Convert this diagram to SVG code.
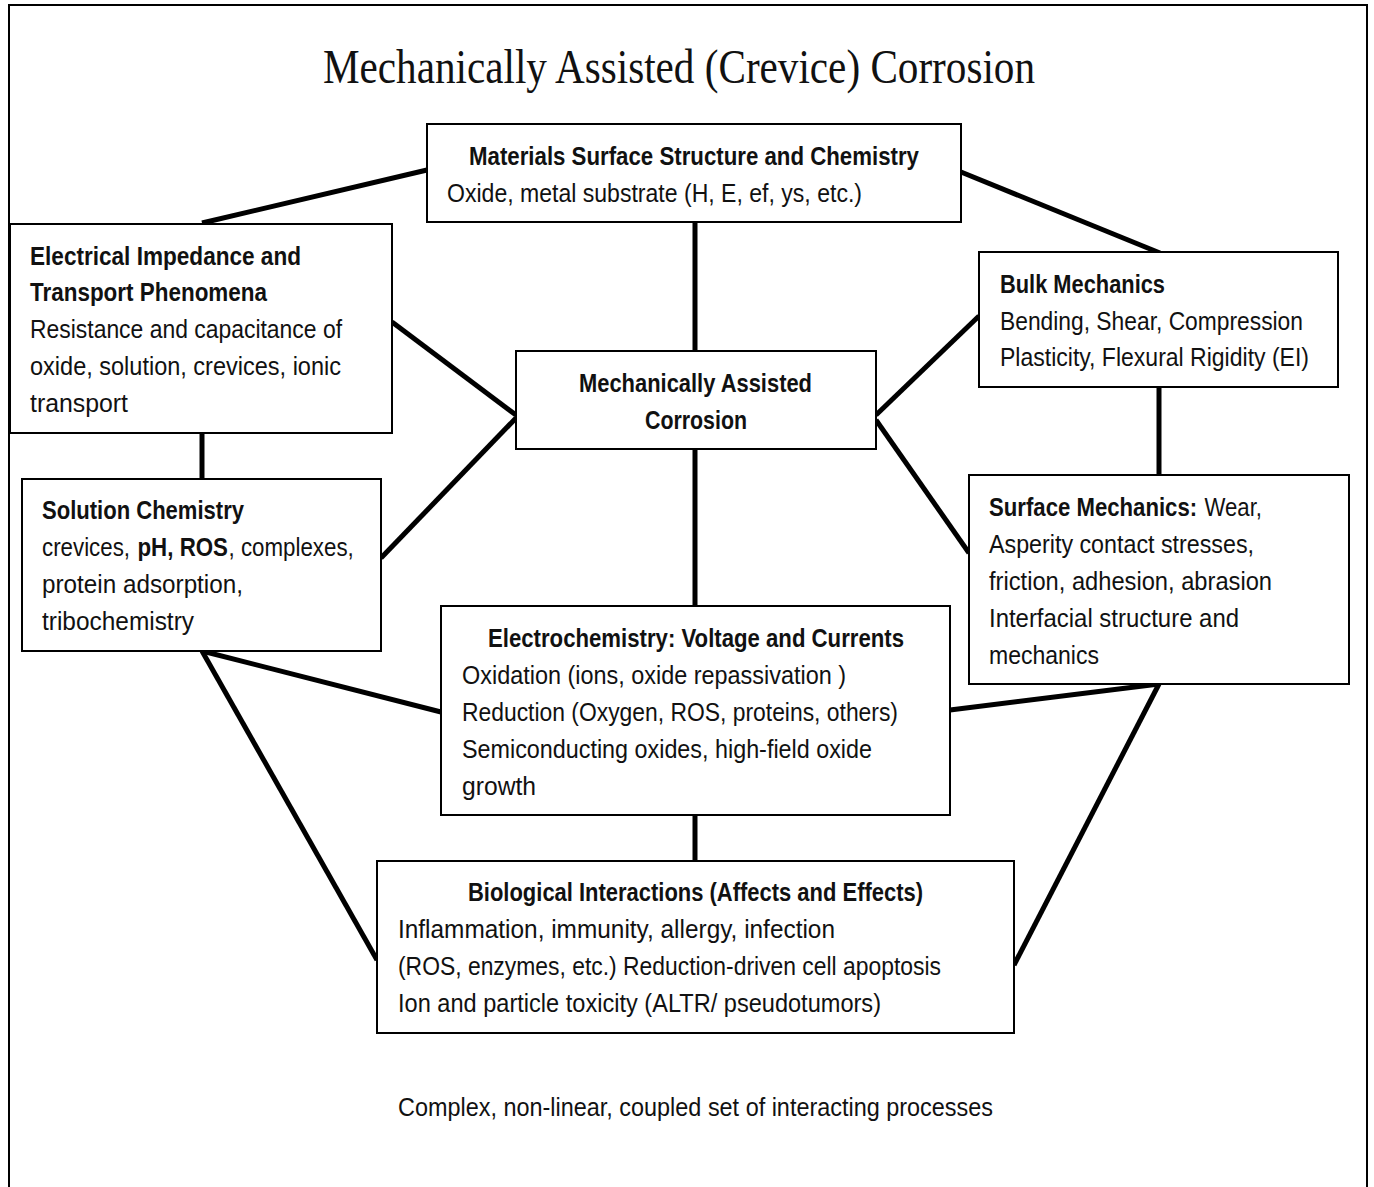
<svg xmlns="http://www.w3.org/2000/svg" width="1374" height="1187" viewBox="0 0 1374 1187">
<style>
.frame{fill:none;stroke:#000;stroke-width:2}
.box{fill:#fff;stroke:#000;stroke-width:2}
.conn line{stroke:#000;stroke-width:5;stroke-linecap:butt}
text{font-family:"Liberation Sans",Arial,sans-serif;font-size:25px;fill:#111}
.b{font-weight:bold}
.title{font-family:"Liberation Serif","Times New Roman",serif;font-size:48px}
</style>
<rect width="1374" height="1187" fill="#fff"/>
<path class="frame" d="M9,1187 V5 H1367 V1187"/>
<text class="title" x="323" y="83" textLength="712" lengthAdjust="spacingAndGlyphs">Mechanically Assisted (Crevice) Corrosion</text>
<g class="conn" id="connectors">
<line x1="427" y1="170" x2="202" y2="223"/>
<line x1="961" y1="172" x2="1160" y2="253"/>
<line x1="695" y1="222" x2="695" y2="352"/>
<line x1="392" y1="322" x2="516" y2="415"/>
<line x1="381" y1="558" x2="516" y2="418"/>
<line x1="876" y1="415" x2="979" y2="316"/>
<line x1="876" y1="420" x2="969" y2="553"/>
<line x1="695" y1="449" x2="695" y2="606"/>
<line x1="202" y1="425" x2="202" y2="479"/>
<line x1="1159" y1="379" x2="1159" y2="475"/>
<line x1="202" y1="651" x2="441" y2="712"/>
<line x1="202" y1="651" x2="377" y2="960"/>
<line x1="1159" y1="684" x2="950" y2="710"/>
<line x1="1159" y1="684" x2="1014" y2="965"/>
<line x1="695" y1="801" x2="695" y2="861"/>
</g>
<g id="materials">
<rect class="box" x="427" y="124" width="534" height="98"/>
<text class="b" x="469" y="165" textLength="450" lengthAdjust="spacingAndGlyphs">Materials Surface Structure and Chemistry</text>
<text x="447" y="202" textLength="415" lengthAdjust="spacingAndGlyphs">Oxide, metal substrate (H, E, ef, ys, etc.)</text>
</g>
<g id="electrical">
<rect class="box" x="10" y="224" width="382" height="209"/>
<text class="b" x="30" y="265" textLength="271" lengthAdjust="spacingAndGlyphs">Electrical Impedance  and</text>
<text class="b" x="30" y="301" textLength="237" lengthAdjust="spacingAndGlyphs">Transport Phenomena</text>
<text x="30" y="338" textLength="312" lengthAdjust="spacingAndGlyphs">Resistance and capacitance of</text>
<text x="30" y="375" textLength="311" lengthAdjust="spacingAndGlyphs">oxide, solution, crevices, ionic</text>
<text x="30" y="412" textLength="98" lengthAdjust="spacingAndGlyphs">transport</text>
</g>
<g id="mac">
<rect class="box" x="516" y="351" width="360" height="98"/>
<text class="b" x="579" y="392" textLength="233" lengthAdjust="spacingAndGlyphs">Mechanically Assisted</text>
<text class="b" x="645" y="429" textLength="102" lengthAdjust="spacingAndGlyphs">Corrosion</text>
</g>
<g id="bulk">
<rect class="box" x="979" y="252" width="359" height="135"/>
<text class="b" x="1000" y="293" textLength="165" lengthAdjust="spacingAndGlyphs">Bulk Mechanics</text>
<text x="1000" y="330" textLength="303" lengthAdjust="spacingAndGlyphs">Bending, Shear, Compression</text>
<text x="1000" y="366" textLength="309" lengthAdjust="spacingAndGlyphs">Plasticity, Flexural Rigidity (EI)</text>
</g>
<g id="solution">
<rect class="box" x="22" y="479" width="359" height="172"/>
<text class="b" x="42" y="519" textLength="202" lengthAdjust="spacingAndGlyphs">Solution Chemistry</text>
<g transform="translate(42,556) scale(0.8926,1)">
<text x="0" y="0">crevices,</text>
<text class="b" x="107" y="0">pH, ROS</text>
<text x="209" y="0">, complexes,</text>
</g>
<text x="42" y="593" textLength="201" lengthAdjust="spacingAndGlyphs">protein adsorption,</text>
<text x="42" y="630" textLength="152" lengthAdjust="spacingAndGlyphs">tribochemistry</text>
</g>
<g id="surface">
<rect class="box" x="969" y="475" width="380" height="209"/>
<g transform="translate(989,516) scale(0.887,1)">
<text class="b" x="0" y="0">Surface Mechanics:</text>
<text x="243" y="0">Wear,</text>
</g>
<text x="989" y="553" textLength="265" lengthAdjust="spacingAndGlyphs">Asperity contact stresses,</text>
<text x="989" y="590" textLength="283" lengthAdjust="spacingAndGlyphs">friction, adhesion, abrasion</text>
<text x="989" y="627" textLength="250" lengthAdjust="spacingAndGlyphs">Interfacial structure and</text>
<text x="989" y="664" textLength="110" lengthAdjust="spacingAndGlyphs">mechanics</text>
</g>
<g id="electrochemistry">
<rect class="box" x="441" y="606" width="509" height="209"/>
<text class="b" x="488" y="647" textLength="416" lengthAdjust="spacingAndGlyphs">Electrochemistry: Voltage and Currents</text>
<text x="462" y="684" textLength="384" lengthAdjust="spacingAndGlyphs">Oxidation (ions, oxide repassivation )</text>
<text x="462" y="721" textLength="436" lengthAdjust="spacingAndGlyphs">Reduction (Oxygen, ROS, proteins, others)</text>
<text x="462" y="758" textLength="410" lengthAdjust="spacingAndGlyphs">Semiconducting oxides, high-field oxide</text>
<text x="462" y="795" textLength="74" lengthAdjust="spacingAndGlyphs">growth</text>
</g>
<g id="biological">
<rect class="box" x="377" y="861" width="637" height="172"/>
<text class="b" x="468" y="901" textLength="455" lengthAdjust="spacingAndGlyphs">Biological Interactions (Affects and Effects)</text>
<text x="398" y="938" textLength="437" lengthAdjust="spacingAndGlyphs">Inflammation, immunity, allergy, infection</text>
<text x="398" y="975" textLength="543" lengthAdjust="spacingAndGlyphs">(ROS, enzymes, etc.) Reduction-driven cell apoptosis</text>
<text x="398" y="1012" textLength="483" lengthAdjust="spacingAndGlyphs">Ion and particle toxicity (ALTR/ pseudotumors)</text>
</g>
<text x="398" y="1116" textLength="595" lengthAdjust="spacingAndGlyphs">Complex, non-linear, coupled set of interacting processes</text>
</svg>
